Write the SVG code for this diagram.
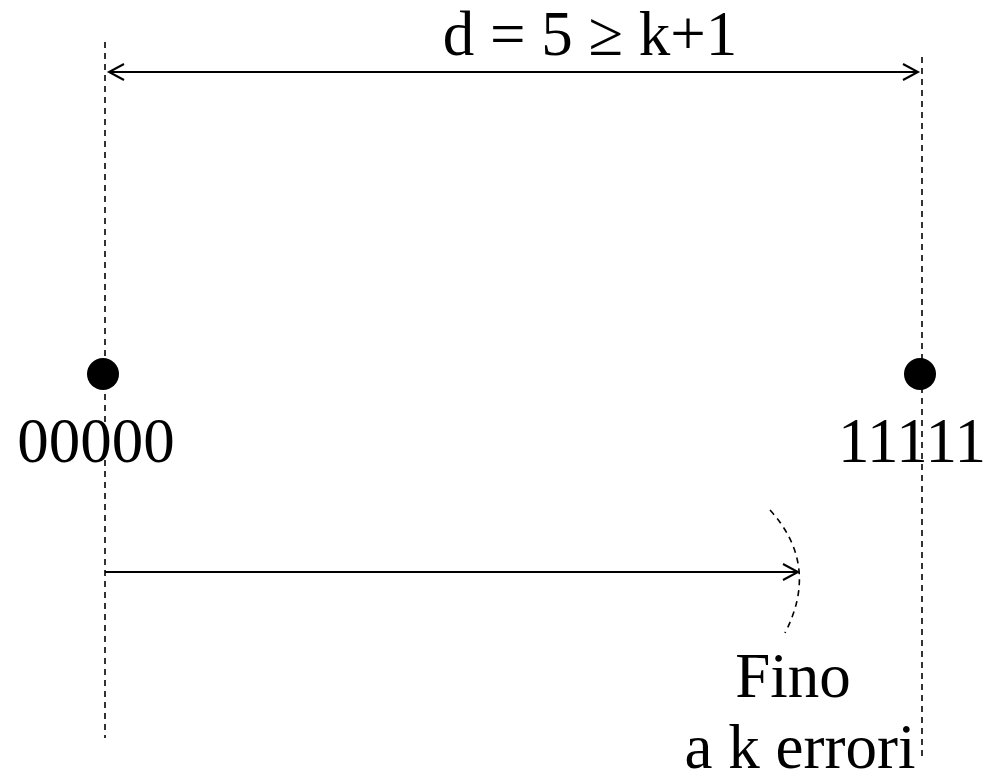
<svg xmlns="http://www.w3.org/2000/svg" width="990" height="783" viewBox="0 0 990 783">
<style>
.t{font-family:"Liberation Serif","Times New Roman",serif;font-size:63px;fill:#000;text-anchor:middle}
.dash{stroke:#000;stroke-width:1.6;stroke-dasharray:6 5;fill:none}
.ln{stroke:#000;stroke-width:2;fill:none}
</style>
<defs>
<marker id="ah" markerWidth="20" markerHeight="20" viewBox="-16 -10 20 20" refX="0" refY="0" orient="auto-start-reverse" markerUnits="userSpaceOnUse">
<path d="M-15,-8 L0,0 L-15,8" fill="none" stroke="#000" stroke-width="2"/>
</marker>
</defs>
<rect width="990" height="783" fill="#fff"/>
<g id="guides">
<line class="dash" x1="105" y1="42" x2="105" y2="738"/>
<line class="dash" x1="922" y1="57" x2="922" y2="756"/>
</g>
<g id="connectors">
<line class="ln" x1="109" y1="72" x2="918" y2="72" marker-start="url(#ah)" marker-end="url(#ah)"/>
<line class="ln" x1="105" y1="572" x2="798" y2="572" marker-end="url(#ah)"/>
<path class="dash" d="M770,510 Q820,565 785,633"/>
</g>
<g id="label-d"><text class="t" x="590" y="55">d = 5 ≥ k+1</text></g>
<g id="node-00000">
<circle cx="103" cy="374" r="16" fill="#000"/>
<text class="t" x="96" y="462">00000</text>
</g>
<g id="node-11111">
<circle cx="920" cy="374" r="16" fill="#000"/>
<text class="t" x="912" y="462">11111</text>
</g>
<g id="label-fino">
<text class="t" x="793" y="697">Fino</text>
<text class="t" x="800" y="768">a k errori</text>
</g>
</svg>
